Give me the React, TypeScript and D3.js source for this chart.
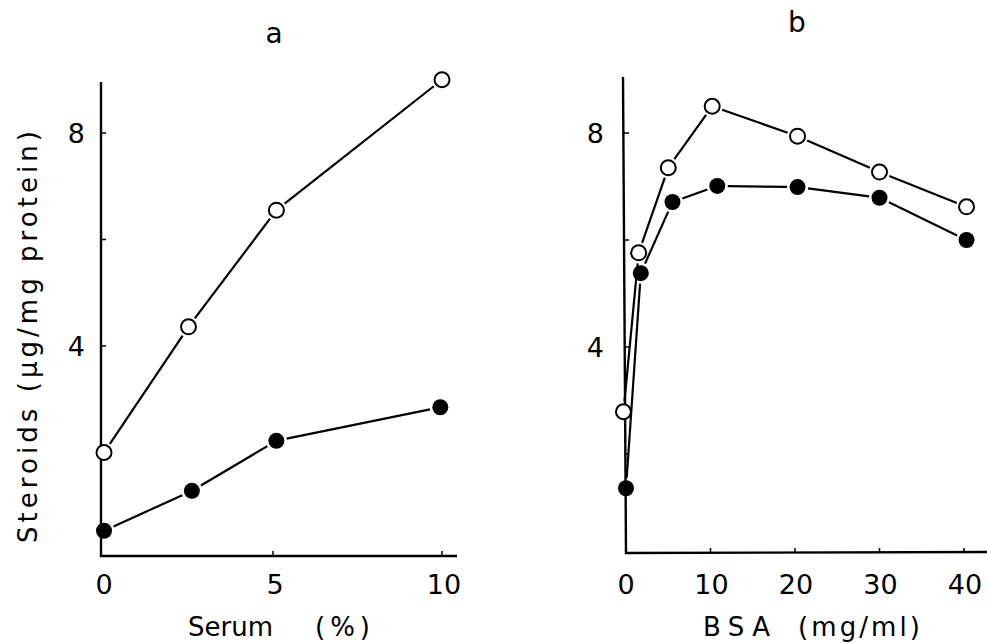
import React from "react";
import * as d3 from "d3";

// Panel a: Serum (%)
const serumOpenX = [0, 2.5, 5.1, 10];
const serumOpenY = [2.0, 4.36, 6.55, 9.0];
const serumFilledX = [0, 2.6, 5.1, 9.95];
const serumFilledY = [0.53, 1.28, 2.22, 2.85];
const serumTicks = [0, 5, 10];

// Panel b: BSA (mg/ml)
const bsaOpenX = [-0.3, 1.5, 5, 10.2, 20.3, 30, 40.3];
const bsaOpenY = [2.79, 5.76, 7.35, 8.5, 7.94, 7.27, 6.62];
const bsaFilledX = [0, 1.75, 5.5, 10.8, 20.3, 30, 40.3];
const bsaFilledY = [1.36, 5.38, 6.71, 7.01, 6.99, 6.79, 6.0];
const bsaTicks = [0, 10, 20, 30, 40];

const yMajorTicks = [4, 8];
const yMinorTicksA = [6];
const yMinorTicksB = [2, 6];

const FONT = "'DejaVu Sans', 'Liberation Sans', sans-serif";
const R = 7.5;

type Pt = { x: number; y: number };

function Series({ pts, filled }: { pts: Pt[]; filled: boolean }) {
  const gap = R + 3;
  const segs = [] as React.ReactNode[];
  for (let i = 0; i < pts.length - 1; i++) {
    const a = pts[i];
    const b = pts[i + 1];
    const dx = b.x - a.x;
    const dy = b.y - a.y;
    const len = Math.hypot(dx, dy);
    if (len <= 2 * gap) continue;
    const ux = dx / len;
    const uy = dy / len;
    const line = d3.line<Pt>().x((d) => d.x).y((d) => d.y)([
      { x: a.x + ux * gap, y: a.y + uy * gap },
      { x: b.x - ux * gap, y: b.y - uy * gap },
    ]);
    segs.push(<path key={"s" + i} d={line || ""} stroke="#000" strokeWidth={2.2} fill="none" />);
  }
  return (
    <g>
      {segs}
      {pts.map((p, i) => (
        <circle
          key={"c" + i}
          cx={p.x}
          cy={p.y}
          r={filled ? R + 0.5 : R}
          fill={filled ? "#000" : "#fff"}
          stroke="#000"
          strokeWidth={filled ? 0 : 2}
        />
      ))}
    </g>
  );
}

export default function App() {
  // scales
  const xa = d3.scaleLinear().domain([0, 10]).range([104, 442]);
  const ya = d3.scaleLinear().domain([0, 8]).range([559, 133]);
  const xb = d3.scaleLinear().domain([0, 40]).range([626, 964]);
  const yb = d3.scaleLinear().domain([0, 8]).range([561, 133]);

  const aOpen = serumOpenX.map((x, i) => ({ x: xa(x), y: ya(serumOpenY[i]) }));
  const aFilled = serumFilledX.map((x, i) => ({ x: xa(x), y: ya(serumFilledY[i]) }));
  const bOpen = bsaOpenX.map((x, i) => ({ x: xb(x), y: yb(bsaOpenY[i]) }));
  const bFilled = bsaFilledX.map((x, i) => ({ x: xb(x), y: yb(bsaFilledY[i]) }));

  const axA = { x: 101, y: 556, top: 82, right: 457 };
  const axB = { x: 623, y: 553, top: 77, right: 987 };

  const tickLen = 5;
  const sw = 2.4;
  const TF = 27;

  return (
    <svg
      width={987}
      height={643}
      style={{ position: "absolute", left: 0, top: 0, background: "#fff" }}
      fontFamily={FONT}
    >
      <rect x={0} y={0} width={987} height={643} fill="#fff" />

      {/* Panel a axes */}
      <g stroke="#000" strokeWidth={sw} fill="none">
        <line x1={axA.x} y1={axA.top} x2={axA.x} y2={axA.y + 1} />
        <line x1={axA.x - 1} y1={axA.y} x2={axA.right} y2={axA.y} />
        {yMajorTicks.concat(yMinorTicksA).map((t) => (
          <line key={"ya" + t} x1={axA.x} y1={ya(t)} x2={axA.x + tickLen} y2={ya(t)} strokeWidth={1.5} />
        ))}
        {serumTicks.filter((t) => t > 0).map((t) => (
          <line key={"xa" + t} x1={xa(t)} y1={axA.y} x2={xa(t)} y2={axA.y - tickLen} strokeWidth={1.5} />
        ))}
      </g>
      {yMajorTicks.map((t) => (
        <text key={"yla" + t} x={axA.x - 16} y={ya(t)} dy="0.36em" textAnchor="end" fontSize={TF}>
          {t}
        </text>
      ))}
      {serumTicks.map((t) => (
        <text key={"xla" + t} x={xa(t) + (t === 0 ? 0 : 2)} y={594} textAnchor="middle" fontSize={TF}>
          {t}
        </text>
      ))}
      <text x={188} y={636} fontSize={26} textLength={85} lengthAdjust="spacing">Serum</text>
      <text x={315} y={636} fontSize={26} textLength={55} lengthAdjust="spacing">(%)</text>
      <text x={274} y={43} textAnchor="middle" fontSize={28}>a</text>
      <text
        transform={`translate(37,543) rotate(-90)`}
        fontSize={26}
        textLength={412}
        lengthAdjust="spacing"
      >
        Steroids (µg/mg protein)
      </text>

      {/* Panel b axes */}
      <g stroke="#000" strokeWidth={sw} fill="none">
        <line x1={axB.x} y1={axB.top} x2={axB.x + 3} y2={axB.y + 1} />
        <line x1={axB.x + 2} y1={axB.y} x2={axB.right} y2={axB.y - 1} />
        {yMajorTicks.concat(yMinorTicksB).map((t) => (
          <line key={"yb" + t} x1={axB.x + 1} y1={yb(t)} x2={axB.x + 1 + tickLen} y2={yb(t)} strokeWidth={1.5} />
        ))}
        {bsaTicks.filter((t) => t > 0).map((t) => (
          <line key={"xb" + t} x1={xb(t)} y1={axB.y} x2={xb(t)} y2={axB.y - tickLen} strokeWidth={1.5} />
        ))}
      </g>
      {yMajorTicks.map((t) => (
        <text key={"ylb" + t} x={axB.x - 19} y={yb(t)} dy="0.36em" textAnchor="end" fontSize={TF}>
          {t}
        </text>
      ))}
      {bsaTicks.map((t) => (
        <text key={"xlb" + t} x={xb(t) + (t === 0 ? 0 : 1)} y={594} textAnchor="middle" fontSize={TF}>
          {t}
        </text>
      ))}
      <text x={703} y={636} fontSize={26} textLength={67} lengthAdjust="spacing">BSA</text>
      <text x={798} y={636} fontSize={26} textLength={122} lengthAdjust="spacing">(mg/ml)</text>
      <text x={797} y={32} textAnchor="middle" fontSize={28}>b</text>

      {/* Data */}
      <Series pts={aOpen} filled={false} />
      <Series pts={aFilled} filled={true} />
      <Series pts={bOpen} filled={false} />
      <Series pts={bFilled} filled={true} />
    </svg>
  );
}
